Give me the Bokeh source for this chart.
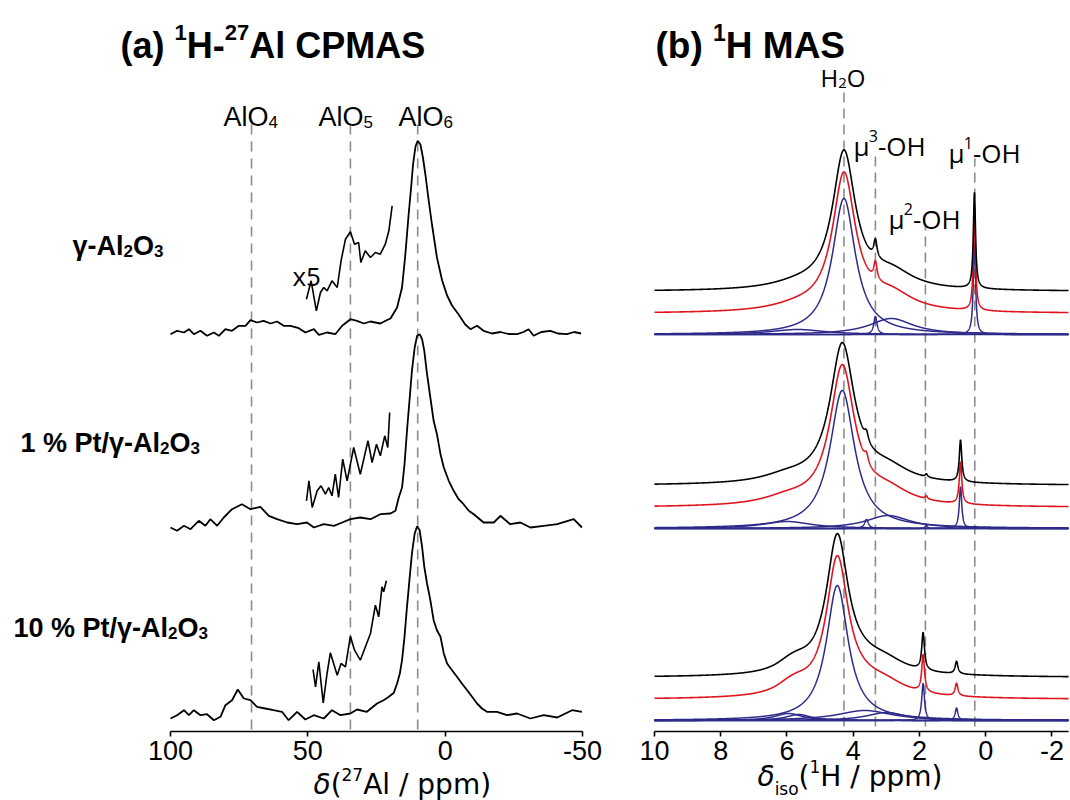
import numpy as np
from bokeh.plotting import figure
from bokeh.layouts import row
from bokeh.models import Range1d, FixedTicker, Label
from bokeh.embed import file_html
from bokeh.resources import INLINE

# ---------------- Panel (a): 1H-27Al CPMAS ----------------
al_ticks = [100, 50, 0, -50]
al_tick_labels = ["100", "50", "0", "-50"]
al_sites = [70.5, 34.5, 10.0]          # AlO4, AlO5, AlO6 guide lines (ppm)

# gamma-Al2O3
s1_ppm = [100.0, 97.6, 95.1, 93.3, 91.5, 89.1, 86.7, 84.2, 82.4, 80.0, 77.6, 75.1, 72.7, 70.9,
          68.5, 66.1, 63.6, 61.2, 58.8, 56.3, 53.3, 50.9, 47.8, 46.0, 43.0, 40.0, 37.5, 34.5,
          32.1, 29.6, 27.2, 23.6, 21.5, 19.9, 17.5, 15.7, 14.5, 13.3, 12.4, 11.7, 10.8, 10.0,
          9.0, 8.1, 7.2, 6.0, 4.8, 3.0, 1.1, -0.7, -2.5, -4.9, -7.3, -9.2, -11.6, -14.0, -17.0,
          -20.1, -23.0, -26.2, -28.5, -30.4, -32.2, -35.0, -38.3, -41.0, -44.3, -47.0, -49.5]
s1_int = [-1.7, 1.7, 0.0, 3.3, -1.7, 1.7, -3.3, 0.0, -3.3, 3.3, 1.7, 6.7, 6.7, 12.3,
          10.0, 11.7, 9.0, 11.0, 6.7, 6.7, 4.3, 0.0, 3.3, -2.3, 0.0, -1.7, 6.7, 13.3,
          11.7, 9.0, 11.0, 9.0, 12.0, 14.0, 25.0, 45.0, 78.0, 118.0, 145.0, 168.0, 186.0, 191.7,
          188.0, 175.0, 158.0, 132.0, 108.0, 75.0, 52.0, 37.0, 27.0, 18.0, 8.0, 3.3, 6.7, 1.7, -1.0,
          0.5, -1.5, -1.7, 0.5, 3.3, -3.3, 0.5, 1.7, -1.0, -1.7, 0.5, -1.0]
s1x5_ppm = [50.5, 48.8, 46.9, 45.4, 44.2, 43.0, 41.2, 39.3, 37.9, 36.3, 34.5, 33.0, 31.5, 30.7,
            29.1, 27.2, 25.4, 23.6, 21.8, 20.5, 19.3]
s1x5_int = [33.3, 51.7, 21.7, 40.0, 45.0, 41.7, 51.7, 45.0, 71.7, 93.3, 100.7, 88.3, 90.0, 70.0,
            81.7, 75.0, 80.0, 78.3, 88.3, 101.7, 126.7]

# 1 % Pt/gamma-Al2O3
s2_ppm = [100.0, 97.6, 95.1, 92.7, 89.7, 87.3, 85.5, 83.0, 80.6, 77.6, 74.0, 70.9, 67.3, 64.2,
          61.2, 57.5, 53.9, 50.3, 47.8, 44.2, 40.5, 37.5, 34.5, 30.9, 27.2, 23.6, 19.9, 18.1,
          16.9, 15.7, 14.8, 13.9, 12.9, 12.1, 11.1, 10.2, 9.3, 8.4, 7.6, 6.6, 5.4, 4.2, 3.0,
          1.7, 0.5, -1.3, -3.1, -4.9, -6.7, -8.6, -10.4, -14.0, -17.7, -20.1,
          -23.7, -27.4, -31.0, -35.9, -40.8, -46.8, -49.8]
s2_int = [0.0, -3.3, 1.7, -1.7, 6.7, 1.7, 8.3, 1.7, 10.0, 18.3, 23.3, 18.3, 20.7, 11.7,
          8.3, 5.0, 3.3, 5.0, 0.0, 3.3, 1.7, 5.0, 8.3, 10.0, 8.3, 13.3, 14.0, 16.7,
          30.0, 40.0, 63.0, 96.7, 130.0, 156.7, 180.0, 191.7, 193.3, 188.3, 176.7, 153.3, 130.0, 106.7, 93.3,
          73.3, 60.0, 46.7, 36.7, 28.3, 23.3, 16.7, 13.3, 5.0, 5.0, 11.7,
          3.3, 5.0, 0.0, 1.7, 3.3, 8.3, 0.0]
s2x5_ppm = [50.5, 49.6, 48.4, 46.6, 45.2, 43.6, 42.4, 41.2, 40.0, 38.8, 37.3, 35.7, 33.3, 30.9,
            28.1, 26.6, 25.0, 23.6, 22.0, 20.9, 20.2]
s2x5_int = [26.7, 46.7, 20.0, 36.7, 41.7, 33.3, 40.0, 31.7, 53.3, 30.0, 68.3, 46.7, 80.0, 53.3,
            86.7, 65.0, 83.3, 71.7, 91.7, 80.0, 115.0]

# 10 % Pt/gamma-Al2O3
s3_ppm = [100.0, 97.6, 95.1, 93.3, 91.5, 89.1, 86.7, 84.2, 81.8, 80.0, 77.6, 75.5, 73.3, 70.9,
          68.5, 65.5, 62.5, 59.4, 57.0, 53.9, 50.9, 47.8, 44.2, 41.2, 38.1, 34.5, 32.1, 28.5,
          24.8, 22.4, 20.5, 18.7, 17.5, 16.5, 15.7, 14.8, 13.9, 12.9, 12.1, 11.1, 10.2, 9.3,
          8.4, 7.6, 6.6, 5.4, 4.2, 3.0, 1.7, 0.5, -0.7, -2.5, -4.3, -6.1, -8.0, -9.8, -11.6,
          -13.4, -15.2, -18.9, -22.5, -26.2, -31.0, -35.9, -40.8, -46.2, -49.8]
s3_int = [0.0, 3.3, 8.3, 3.3, 8.3, 3.3, 4.3, -1.7, 1.7, 13.3, 18.3, 29.0, 20.0, 18.3,
          11.7, 10.0, 8.3, 6.7, -1.7, 6.7, -1.0, 3.3, 0.0, 8.3, 3.3, 5.0, 9.0, 6.7,
          15.0, 18.3, 21.7, 25.7, 35.0, 45.0, 58.3, 81.7, 111.7, 141.7, 165.0, 185.0, 192.3, 188.3,
          171.7, 151.7, 135.0, 118.3, 98.3, 88.3, 81.7, 65.0, 55.0, 48.3, 41.7, 35.0, 28.3, 21.7, 15.0,
          10.0, 6.7, 6.7, 3.3, 5.0, 0.0, 3.3, 1.0, 8.3, 6.7]
s3x5_ppm = [48.1, 47.2, 46.0, 44.4, 43.0, 41.8, 39.3, 37.9, 36.3, 34.5, 33.0, 30.9, 27.2, 25.4,
            24.2, 23.0, 22.4, 21.4]
s3x5_int = [49.0, 31.7, 56.7, 15.7, 45.0, 65.7, 43.3, 55.0, 51.7, 82.3, 68.3, 58.3, 85.0, 113.3,
            101.7, 131.7, 126.7, 137.7]

al_spectra = [(s1_ppm, s1_int, s1x5_ppm, s1x5_int),
              (s2_ppm, s2_int, s2x5_ppm, s2x5_int),
              (s3_ppm, s3_int, s3x5_ppm, s3x5_int)]
al_offsets = [399, 204, 13]

# ---------------- Panel (b): 1H MAS, fitted components ----------------
h_ticks = [10, 8, 6, 4, 2, 0, -2]
h_tick_labels = ["10", "8", "6", "4", "2", "0", "-2"]
h_sites = [4.28, 3.33, 1.82, 0.33]     # H2O, mu3-OH, mu2-OH, mu1-OH guide lines (ppm)
h_site_tops = [648, 578, 506, 573]

g1_center = [4.28, 3.33, 2.85, 5.68, 0.34]
g1_height = [136.0, 18.0, 16.0, 5.0, 96.0]
g1_hwhm = [0.42, 0.06, 0.80, 1.00, 0.04]

g2_center = [4.33, 3.60, 2.95, 6.00, 1.79, 0.76]
g2_height = [138.0, 9.0, 13.0, 7.0, 3.0, 41.7]
g2_hwhm = [0.45, 0.07, 0.80, 0.90, 0.04, 0.045]

g3_center = [4.48, 5.95, 5.65, 3.65, 3.00, 1.89, 0.88]
g3_height = [135.0, 7.0, 6.0, 10.0, 8.0, 37.0, 12.5]
g3_hwhm = [0.40, 0.50, 0.45, 1.00, 0.70, 0.05, 0.05]

h_groups = [(g1_center, g1_height, g1_hwhm),
            (g2_center, g2_height, g2_hwhm),
            (g3_center, g3_height, g3_hwhm)]
h_offsets = [397, 203, 11]
fit_shift = 21
exp_shift = 43

# ---------------- helpers ----------------
AXIS_Y = 731          # canvas row of the x axes
CANVAS_H = 800
LEFT_W = 630
RIGHT_W = 440


def ax_a(px):
    return 100 - (px - 170) / (412 / 150)


def ax_b(px):
    return 10 - (px - 654) / (414 / 12.5)


def digits(w):
    return {str(d): w for d in range(10)}


W_ARIAL = {'A': .667, 'l': .222, 'O': .778, 'H': .722, 'x': .5, ' ': .278, '/': .278,
           'p': .556, 'm': .833, '(': .333, ')': .333, '-': .333, **digits(.556)}
W_ARIAL_B = {'A': .722, 'l': .278, 'O': .778, 'H': .722, 'C': .722, 'P': .667, 'M': .833,
             'S': .667, '(': .333, ')': .333, 'a': .556, 'b': .611, ' ': .278, '-': .333,
             '%': .889, 't': .333, '/': .278, 'γ': .556, **digits(.556)}
W_OPEN = {'H': .738, 'O': .781, 'μ': .588, '-': .322, 'x': .523, **digits(.571)}
W_DEJAVU = {'δ': .612, '(': .39, ')': .39, 'A': .684, 'l': .278, ' ': .318, '/': .337,
            'p': .635, 'm': .974, 'H': .752, 'i': .278, 's': .521, 'o': .612, **digits(.636)}


def rich(fig, conv, px, py, pieces, font, size, widths, style="normal", sub_drop=0.22):
    x = px
    for txt, kind in pieces:
        fs = size if kind in ("n", "it") else round(size * 0.62)
        dy = 0.0
        if kind == "sup":
            dy = 0.36 * size
        elif kind == "sub":
            dy = -sub_drop * size
        st = "italic" if kind == "it" else style
        fig.add_layout(Label(x=conv(x), y=AXIS_Y - py + dy, text=txt, text_font=font,
                             text_font_size=f"{fs}px", text_font_style=st, text_color="black",
                             text_baseline="alphabetic", text_align="left"))
        x += sum(widths.get(c, .55) for c in txt) * fs


def base_fig(xr, fw):
    p = figure(frame_width=fw, frame_height=CANVAS_H, x_range=xr,
               y_range=Range1d(AXIS_Y - CANVAS_H, AXIS_Y),
               min_border_left=0, min_border_right=0, min_border_top=0, min_border_bottom=0,
               output_backend="svg", toolbar_location=None, y_axis_location=None)
    p.grid.visible = False
    p.outline_line_color = None
    p.background_fill_color = "white"
    p.border_fill_color = "white"
    ax = p.xaxis[0]
    ax.fixed_location = 0
    ax.axis_line_width = 1.6
    ax.axis_line_color = "black"
    ax.major_tick_line_color = "black"
    ax.major_tick_line_width = 1.6
    ax.major_tick_out = 5
    ax.major_tick_in = 0
    ax.minor_tick_line_color = None
    ax.major_label_text_font = "Liberation Sans"
    ax.major_label_text_font_size = "27px"
    ax.major_label_text_color = "black"
    ax.major_label_standoff = 4
    return p


# ---------------- panel (a) ----------------
pa = base_fig(Range1d(ax_a(0), ax_a(LEFT_W)), LEFT_W)
pa.xaxis.bounds = (-50, 100)
pa.xaxis.ticker = FixedTicker(ticks=al_ticks)
pa.xaxis.major_label_overrides = {t: l for t, l in zip(al_ticks, al_tick_labels)}

pa.segment(x0=al_sites, x1=al_sites, y0=[2] * 3, y1=[608] * 3, line_color="#8c8c8c",
           line_width=1.6, line_dash="10 7")
for (xp, yi, xp5, yi5), off in zip(al_spectra, al_offsets):
    pa.line(xp, np.array(yi) + off, line_color="black", line_width=1.8)
    pa.line(xp5, np.array(yi5) + off, line_color="black", line_width=1.6)

rich(pa, ax_a, 120, 45, [("(a) ", "n"), ("1", "sup"), ("H-", "n"), ("27", "sup"), ("Al CPMAS", "n")],
     "Liberation Sans", 36, W_ARIAL_B, "bold")
for lx, txt in zip([223, 318, 398], ["4", "5", "6"]):
    rich(pa, ax_a, lx, 116, [("AlO", "n"), (txt, "sub")], "Liberation Sans", 27, W_ARIAL)
rich(pa, ax_a, 292, 275, [("x5", "n")], "Open Sans", 26, W_OPEN)
for (lx, ly), pre in zip([(72, 245), (20, 442), (13, 627)], ["γ-Al", "1 % Pt/γ-Al", "10 % Pt/γ-Al"]):
    rich(pa, ax_a, lx, ly, [(pre, "n"), ("2", "sub"), ("O", "n"), ("3", "sub")],
         "Liberation Sans", 27, W_ARIAL_B, "bold")
rich(pa, ax_a, 313, 784, [("δ", "it"), ("(", "n"), ("27", "sup"), ("Al / ppm)", "n")],
     "DejaVu Sans", 28, W_DEJAVU)

# ---------------- panel (b) ----------------
pb = base_fig(Range1d(ax_b(LEFT_W), ax_b(LEFT_W + RIGHT_W)), RIGHT_W)
pb.xaxis.bounds = (-2.5, 10)
pb.xaxis.ticker = FixedTicker(ticks=h_ticks)
pb.xaxis.major_label_overrides = {t: l for t, l in zip(h_ticks, h_tick_labels)}

pb.segment(x0=h_sites, x1=h_sites, y0=[5] * 4, y1=h_site_tops, line_color="#8c8c8c",
           line_width=1.6, line_dash="10 6")

grid = np.linspace(10, -2.5, 3126)
for (cs, hs, ws), off in zip(h_groups, h_offsets):
    comps = [h / (1 + ((grid - c) / w) ** 2) for c, h, w in zip(cs, hs, ws)]
    total = np.sum(comps, axis=0)
    for comp in comps:
        pb.line(grid, comp + off, line_color="#2e2a8a", line_width=1.5)
    pb.line(grid, total + off + fit_shift, line_color="#e0141e", line_width=1.6)
    pb.line(grid, total + off + exp_shift, line_color="black", line_width=1.6)

rich(pb, ax_b, 655, 45, [("(b) ", "n"), ("1", "sup"), ("H MAS", "n")],
     "Liberation Sans", 37, W_ARIAL_B, "bold")
rich(pb, ax_b, 820, 77, [("H", "n"), ("2", "sub"), ("O", "n")], "Open Sans", 24, W_OPEN)
for (lx, ly), k in zip([(853, 145), (948, 152), (888, 218)], ["3", "1", "2"]):
    rich(pb, ax_b, lx, ly, [("μ", "n"), (k, "sup"), ("-OH", "n")], "Open Sans", 26, W_OPEN)
rich(pb, ax_b, 757, 776, [("δ", "it"), ("iso", "sub"), ("(", "n"), ("1", "sup"), ("H / ppm)", "n")],
     "DejaVu Sans", 28, W_DEJAVU, sub_drop=0.45)

layout = row(pa, pb)
open("out.html", "w").write(file_html(layout, INLINE))
